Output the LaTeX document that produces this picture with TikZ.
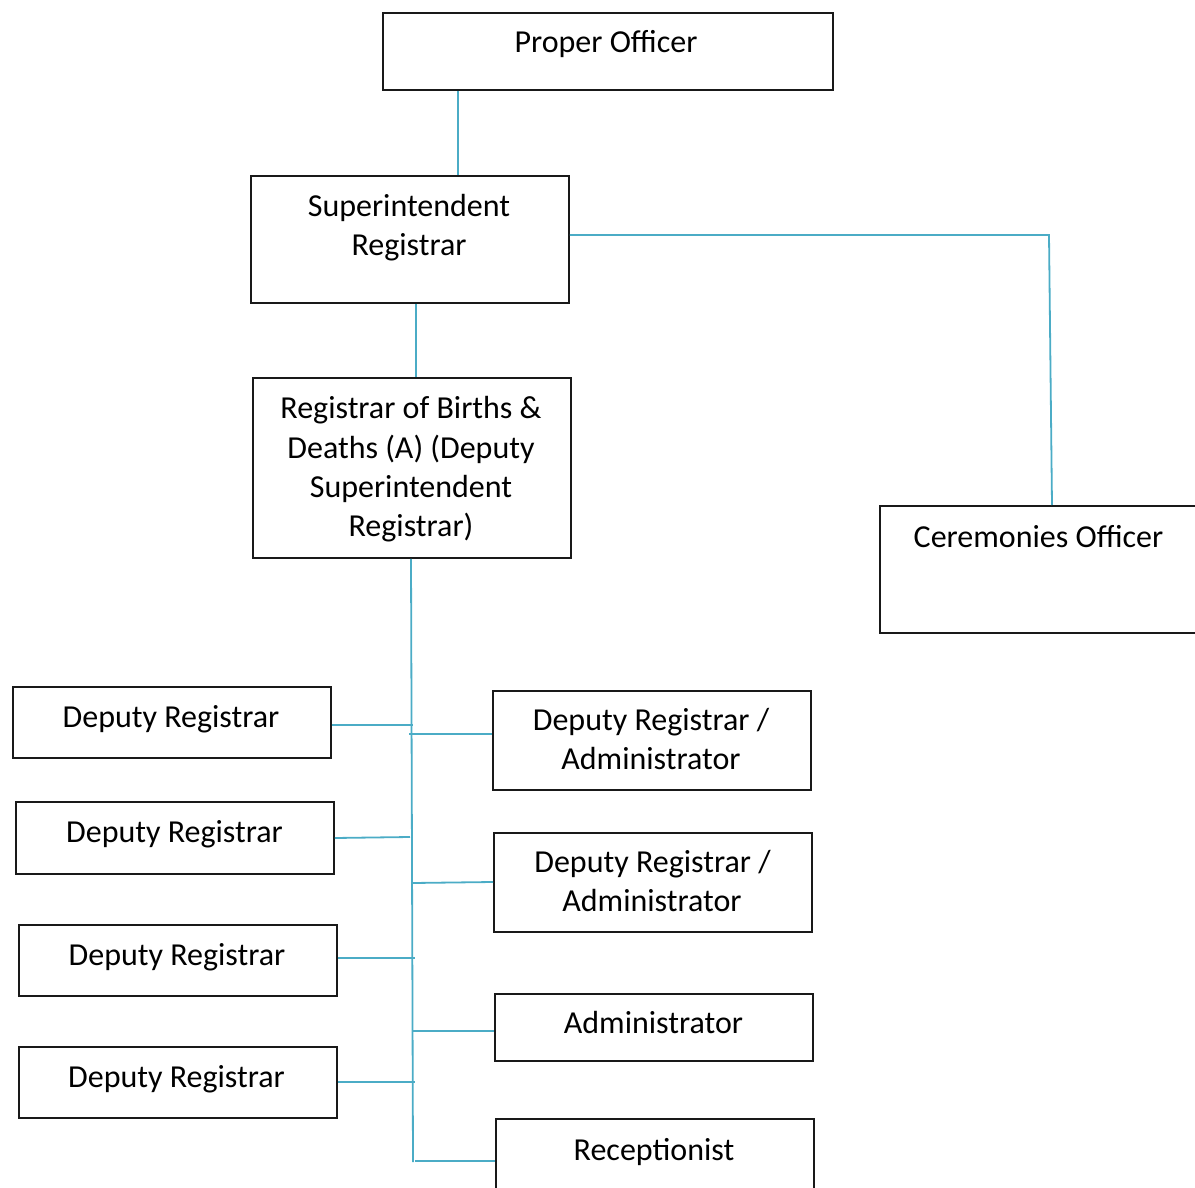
\documentclass[tikz,border=0pt]{standalone}
\usepackage{fontspec}
\setmainfont{Carlito}
\definecolor{connblue}{RGB}{75,172,198}
\begin{document}
\begin{tikzpicture}[x=1pt,y=-1pt,
  box/.style={draw=black!90, line width=1.8pt, inner sep=0pt, anchor=north west},
  txt/.style={inner sep=0pt, anchor=base, font=\fontsize{32}{39}\selectfont},
  conn/.style={draw=connblue, line width=1.8pt}]
\useasboundingbox (0,0) rectangle (1195,1188);
% boxes
\node[box, minimum width=450, minimum height=77] (po) at (382,12) {};
\node[box, minimum width=318, minimum height=127] (sr) at (250,175) {};
\node[box, minimum width=318, minimum height=180] (rb) at (252,377) {};
\node[box, minimum width=330, minimum height=127] (co) at (879,505) {};
\node[box, minimum width=318, minimum height=71] (dr1) at (12,686) {};
\node[box, minimum width=318, minimum height=72] (dr2) at (15,801) {};
\node[box, minimum width=318, minimum height=71] (dr3) at (18,924) {};
\node[box, minimum width=318, minimum height=71] (dr4) at (18,1046) {};
\node[box, minimum width=318, minimum height=99] (dra1) at (492,690) {};
\node[box, minimum width=318, minimum height=99] (dra2) at (493,832) {};
\node[box, minimum width=318, minimum height=67] (adm) at (494,993) {};
\node[box, minimum width=318, minimum height=90] (rec) at (495,1118) {};
% texts
\node[txt] (tpo) at (606,53) {Proper Officer};
\node[txt] (tsr1) at (409,216) {Superintendent};
\node[txt] (tsr2) at (409,255) {Registrar};
\node[txt] (trb1) at (411,418) {Registrar of Births \&};
\node[txt] (trb2) at (411,458) {Deaths (A) (Deputy};
\node[txt] (trb3) at (411,497) {Superintendent};
\node[txt] (trb4) at (411,536) {Registrar)};
\node[txt] (tco) at (1038.5,547) {Ceremonies Officer};
\node[txt] (tdr1) at (171,727) {Deputy Registrar};
\node[txt] (tdr2) at (174.5,842) {Deputy Registrar};
\node[txt] (tdr3) at (177,965) {Deputy Registrar};
\node[txt] (tdr4) at (176.5,1087) {Deputy Registrar};
\node[txt] (tda1) at (651,730) {Deputy Registrar /};
\node[txt] (tda2) at (651,769) {Administrator};
\node[txt] (tdb1) at (652.5,872) {Deputy Registrar /};
\node[txt] (tdb2) at (652,911) {Administrator};
\node[txt] (tadm) at (653.5,1033) {Administrator};
\node[txt] (trec) at (654,1160) {Receptionist};
% junction coordinates
\coordinate (corner) at (1049,235);
\coordinate (tb) at (413,1162);
\coordinate (j1) at (413,725);
\coordinate (j2) at (409,734);
\coordinate (j3) at (410,837);
\coordinate (j4) at (413,883);
\coordinate (j5) at (415,958);
\coordinate (j6) at (413,1031);
\coordinate (j7) at (415,1082);
\coordinate (j8) at (415,1161);
% connectors
\draw[conn] (po.south -| 458,0) -- (sr.north -| 458,0);
\draw[conn] (sr.south -| 416,0) -- (rb.north -| 416,0);
\draw[conn] (sr.east |- corner) -- (corner) -- (co.north -| 1052,0);
\draw[conn] (rb.south -| 411,0) -- (tb);
\draw[conn] (dr1.east |- j1) -- (j1);
\draw[conn] (j2) -- (dra1.west |- j2);
\draw[conn] (dr2.east |- 0,838) -- (j3);
\draw[conn] (j4) -- (dra2.west |- 0,882);
\draw[conn] (dr3.east |- j5) -- (j5);
\draw[conn] (j6) -- (adm.west |- j6);
\draw[conn] (dr4.east |- j7) -- (j7);
\draw[conn] (j8) -- (rec.west |- j8);
\end{tikzpicture}
\end{document}
